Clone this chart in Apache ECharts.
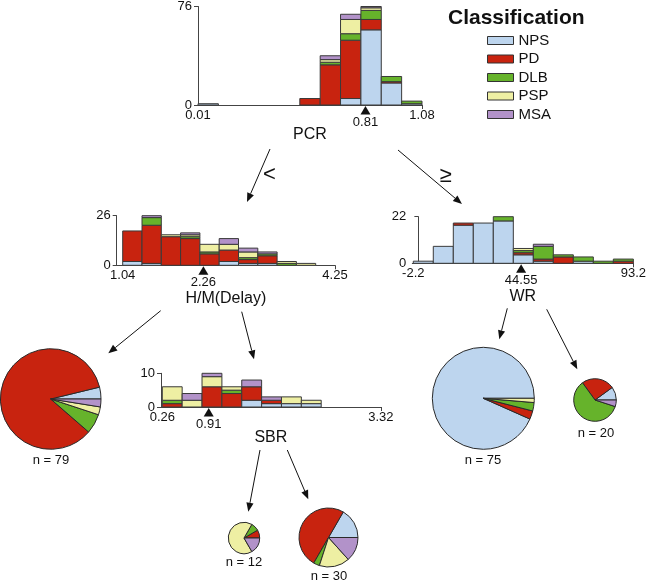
<!DOCTYPE html>
<html><head><meta charset="utf-8">
<script src="https://cdn.jsdelivr.net/npm/echarts@6/dist/echarts.min.js"></script>
<style>html,body{margin:0;padding:0;background:#fff}#c{width:649px;height:581px}</style>
</head><body><div id="c"></div>
<script>
// ---------- data ----------
const classes = ['NPS', 'PD', 'DLB', 'PSP', 'MSA'];
const classColors = ['#bdd5ee', '#c8230f', '#66b32b', '#eeefa3', '#b292c9'];

// PCR node (11 bins between 0.01 and 1.08)
const pcrName = 'PCR';
const pcrRange = [0.01, 1.08];
const pcrSplit = 0.81;
const pcrYMax = 76;
const pcrTicks = ['0.01', '0.81', '1.08'];
const pcrNPS = [1, 0, 0, 0, 0, 0, 0, 5, 58, 17, 1];
const pcrPD  = [0, 0, 0, 0, 0, 5, 31, 45, 8, 1, 0];
const pcrDLB = [0, 0, 0, 0, 0, 0, 2, 5, 7, 4, 2];
const pcrPSP = [0, 0, 0, 0, 0, 0, 2, 11, 2, 0, 0];
const pcrMSA = [0, 0, 0, 0, 0, 0, 3, 4, 1, 0, 0];

// H/M(Delay) node (PCR < 0.81)
const hmName = 'H/M(Delay)';
const hmRange = [1.04, 4.25];
const hmSplit = 2.26;
const hmYMax = 26;
const hmTicks = ['1.04', '2.26', '4.25'];
const hmNPS = [2, 1, 0, 0, 0, 2, 1, 1, 0, 0, 0];
const hmPD  = [16, 20, 15, 14, 6, 6, 2, 4, 0, 0, 0];
const hmDLB = [0, 4, 0, 1, 1, 0, 1, 1, 1, 0, 0];
const hmPSP = [0, 0, 1, 1, 4, 3, 3, 0, 1, 1, 0];
const hmMSA = [0, 1, 0, 1, 0, 3, 2, 1, 0, 0, 0];

// WR node (PCR >= 0.81)
const wrName = 'WR';
const wrRange = [-2.2, 93.2];
const wrSplit = 44.55;
const wrYMax = 22;
const wrTicks = ['-2.2', '44.55', '93.2'];
const wrNPS = [1, 8, 18, 19, 20, 4, 1, 0, 1, 0, 0];
const wrPD  = [0, 0, 1, 0, 0, 1, 1, 3, 0, 0, 1];
const wrDLB = [0, 0, 0, 0, 2, 1, 6, 1, 2, 1, 1];
const wrPSP = [0, 0, 0, 0, 0, 1, 0, 0, 0, 0, 0];
const wrMSA = [0, 0, 0, 0, 0, 0, 1, 0, 0, 0, 0];

// SBR node (H/M >= 2.26)
const sbrName = 'SBR';
const sbrRange = [0.26, 3.32];
const sbrSplit = 0.91;
const sbrYMax = 10;
const sbrTicks = ['0.26', '0.91', '3.32'];
const sbrNPS = [0, 0, 0, 0, 2, 1, 1, 1, 0, 0, 0];
const sbrPD  = [1, 0, 6, 4, 4, 1, 0, 0, 0, 0, 0];
const sbrDLB = [1, 0, 0, 1, 0, 0, 0, 0, 0, 0, 0];
const sbrPSP = [4, 2, 3, 1, 0, 0, 2, 1, 0, 0, 0];
const sbrMSA = [0, 2, 1, 0, 2, 1, 0, 0, 0, 0, 0];

// Leaf nodes (counts in order NPS, PD, DLB, PSP, MSA)
const leafHMlow   = [3, 67, 5, 2, 2];   // n = 79
const leafSBRlow  = [0, 1, 1, 8, 2];    // n = 12
const leafSBRhigh = [5, 15, 1, 5, 4];   // n = 30
const leafWRlow   = [70, 2, 2, 1, 0];   // n = 75
const leafWRhigh  = [2, 5, 12, 0, 1];   // n = 20

// ---------- layout ----------
const FONT = 'Liberation Sans, Arial, Helvetica, sans-serif';
const nodes = [
  {name: pcrName, range: pcrRange, split: pcrSplit, ymax: pcrYMax, ticks: pcrTicks,
   counts: [pcrNPS, pcrPD, pcrDLB, pcrPSP, pcrMSA], grid: {left: 198, top: 5, width: 224, height: 100}, pad: 0, gap: 22},
  {name: hmName, range: hmRange, split: hmSplit, ymax: hmYMax, ticks: hmTicks,
   counts: [hmNPS, hmPD, hmDLB, hmPSP, hmMSA], grid: {left: 116.7, top: 215.7, width: 218.3, height: 49.6}, pad: 6, gap: 25},
  {name: wrName, range: wrRange, split: wrSplit, ymax: wrYMax, ticks: wrTicks,
   counts: [wrNPS, wrPD, wrDLB, wrPSP, wrMSA], grid: {left: 412.3, top: 216.7, width: 223.7, height: 46.6}, pad: 1, gap: 25},
  {name: sbrName, range: sbrRange, split: sbrSplit, ymax: sbrYMax, ticks: sbrTicks,
   counts: [sbrNPS, sbrPD, sbrDLB, sbrPSP, sbrMSA], grid: {left: 161, top: 373.3, width: 219.8, height: 33.7}, pad: 1.3, gap: 23}
];

const leaves = [
  {counts: leafHMlow,   center: [50.7, 399],   r: 50.3, label: [51, 460]},
  {counts: leafSBRlow,  center: [244, 538],    r: 15.7, label: [244, 562]},
  {counts: leafSBRhigh, center: [328.5, 537.5], r: 29.5, label: [329, 576]},
  {counts: leafWRlow,   center: [483.3, 398.3], r: 51,  label: [483, 460]},
  {counts: leafWRhigh,  center: [595, 400],    r: 21.3, label: [596, 433]}
];

const arrows = [
  [[270, 149], [247, 202]],
  [[398, 150], [462, 204]],
  [[160.7, 310.7], [108.3, 353.3]],
  [[241.7, 311.7], [254, 359.3]],
  [[507.3, 308.3], [499.3, 339.3]],
  [[546.7, 309.3], [577.3, 369.3]],
  [[260, 450], [248.3, 511.7]],
  [[287.3, 450], [308.3, 499.3]]
];

// ---------- build ----------
function buildHist(counts, lo, hi) {
  const n = counts[0].length, w = (hi - lo) / n, out = [];
  for (let i = 0; i < n; i++) {
    let cum = 0;
    for (let c = 0; c < counts.length; c++) {
      const v = counts[c][i];
      if (v > 0) { out.push([lo + i * w, lo + (i + 1) * w, cum, cum + v, c]); cum += v; }
    }
  }
  return out;
}

const grid = [], xAxis = [], yAxis = [], series = [];
nodes.forEach((nd, k) => {
  const [lo, hi] = nd.range;
  const minX = lo - nd.pad * (hi - lo) / (nd.grid.width - nd.pad);
  grid.push(nd.grid);
  xAxis.push({
    type: 'value', gridIndex: k, min: minX, max: hi,
    name: nd.name, nameLocation: 'middle', nameGap: nd.gap,
    nameTextStyle: {fontSize: 16, color: '#111', fontFamily: FONT},
    axisLine: {show: true, lineStyle: {color: '#444', width: 1}},
    axisTick: {show: true, customValues: [hi], length: 4, lineStyle: {color: '#444'}},
    axisLabel: {show: true, customValues: [lo, hi], margin: 4, fontSize: 13, color: '#111', fontFamily: FONT,
      formatter: v => (Math.abs(v - lo) < 1e-9 ? nd.ticks[0] : nd.ticks[2])},
    splitLine: {show: false}
  });
  yAxis.push({
    type: 'value', gridIndex: k, min: 0, max: nd.ymax, interval: nd.ymax,
    axisLine: {show: true, lineStyle: {color: '#444', width: 1}},
    axisTick: {show: true, length: 4, lineStyle: {color: '#444'}},
    axisLabel: {show: true, margin: 6, fontSize: 13, color: '#111', fontFamily: FONT},
    splitLine: {show: false}
  });
  series.push({
    type: 'custom', xAxisIndex: k, yAxisIndex: k, silent: true,
    data: buildHist(nd.counts, lo, hi),
    encode: {x: [0, 1], y: [2, 3]},
    renderItem: (params, api) => {
      const a = api.coord([api.value(0), api.value(2)]);
      const b = api.coord([api.value(1), api.value(3)]);
      return {type: 'rect', shape: {x: a[0], y: b[1], width: b[0] - a[0], height: a[1] - b[1]},
        style: {fill: classColors[api.value(4)], stroke: '#3a3a3a', lineWidth: 1}};
    }
  });
  series.push({
    type: 'custom', xAxisIndex: k, yAxisIndex: k, silent: true, clip: false,
    data: [[nd.split, 0]],
    renderItem: (params, api) => {
      const p = api.coord([api.value(0), api.value(1)]);
      return {type: 'group', children: [
        {type: 'polygon', shape: {points: [[p[0], p[1] + 1], [p[0] - 5, p[1] + 9.5], [p[0] + 5, p[1] + 9.5]]},
          style: {fill: '#111'}},
        {type: 'text', x: p[0], y: p[1] + 17.5,
          style: {text: nd.ticks[1], fill: '#111', font: '13px ' + FONT, align: 'center', verticalAlign: 'middle'}}
      ]};
    }
  });
});

leaves.forEach(lf => {
  const data = [];
  lf.counts.forEach((v, c) => { if (v > 0) data.push({name: classes[c], value: v, itemStyle: {color: classColors[c]}}); });
  series.push({
    type: 'pie', center: lf.center, radius: lf.r, startAngle: 0, clockwise: false, silent: true,
    label: {show: false}, labelLine: {show: false}, minAngle: 0,
    itemStyle: {borderColor: '#2a2a2a', borderWidth: 1},
    emphasis: {disabled: true}, data: data
  });
});

const graphic = [];
arrows.forEach(([p, q]) => {
  const dx = q[0] - p[0], dy = q[1] - p[1], L = Math.hypot(dx, dy), ux = dx / L, uy = dy / L;
  const hl = 9, hw = 3.6;
  const bx = q[0] - ux * hl, by = q[1] - uy * hl;
  graphic.push({type: 'line', shape: {x1: p[0], y1: p[1], x2: bx, y2: by}, style: {stroke: '#111', lineWidth: 1}, silent: true});
  graphic.push({type: 'polygon', shape: {points: [[q[0], q[1]], [bx - uy * hw, by + ux * hw], [bx + uy * hw, by - ux * hw]]},
    style: {fill: '#111'}, silent: true});
});
graphic.push({type: 'text', x: 269.5, y: 175, style: {text: '<', font: '22px ' + FONT, fill: '#111', align: 'center', verticalAlign: 'middle'}});
graphic.push({type: 'text', x: 445.5, y: 175.5, style: {text: '\u2265', font: '22px ' + FONT, fill: '#111', align: 'center', verticalAlign: 'middle'}});
leaves.forEach(lf => {
  const n = lf.counts.reduce((s, v) => s + v, 0);
  graphic.push({type: 'text', x: lf.label[0], y: lf.label[1],
    style: {text: 'n = ' + n, font: '13px ' + FONT, fill: '#111', align: 'center', verticalAlign: 'middle'}});
});

const chart = echarts.init(document.getElementById('c'), null, {renderer: 'canvas'});
chart.setOption({
  animation: false,
  textStyle: {fontFamily: FONT},
  title: {text: 'Classification', left: 448, top: 8, padding: 0,
    textStyle: {fontSize: 21, fontWeight: 'bold', color: '#111', fontFamily: FONT}},
  legend: {orient: 'vertical', left: 487, top: 33, padding: 0, itemWidth: 26, itemHeight: 8, itemGap: 3.5,
    icon: 'rect', data: classes, selectedMode: false,
    textStyle: {fontSize: 15, color: '#111', fontFamily: FONT},
    itemStyle: {borderColor: '#333', borderWidth: 1}},
  grid, xAxis, yAxis, series, graphic
});
</script></body></html>
